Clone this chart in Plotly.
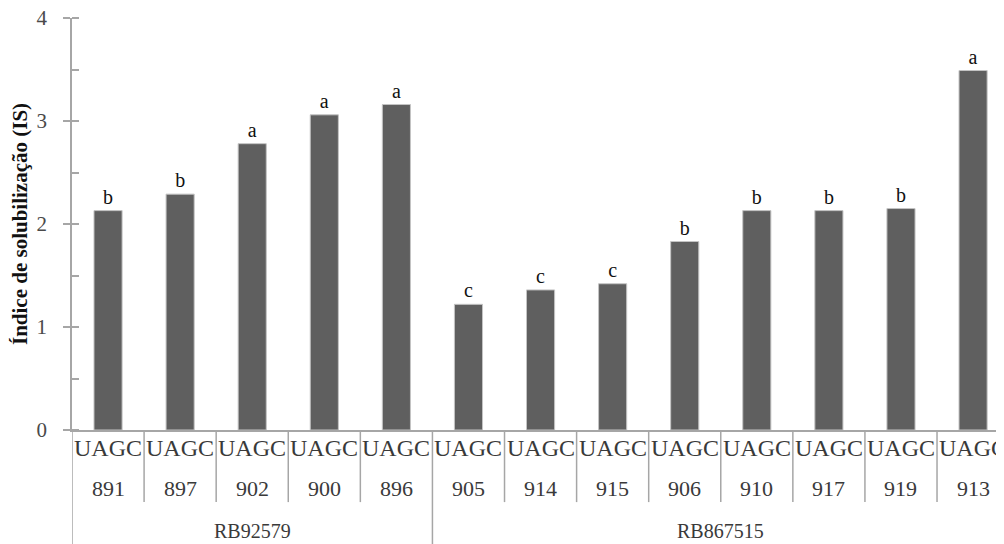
import plotly.graph_objects as go

isolates = ["891", "897", "902", "900", "896", "905", "914", "915", "906", "910", "917", "919", "913"]
prefix = "UAGC"
groups = ["RB92579"] * 5 + ["RB867515"] * 8
group_names = ["RB92579", "RB867515"]
values = [2.13, 2.29, 2.78, 3.06, 3.16, 1.22, 1.36, 1.42, 1.83, 2.13, 2.13, 2.15, 3.49]
letters = ["b", "b", "a", "a", "a", "c", "c", "c", "b", "b", "b", "b", "a"]
y_title = "Índice de solubilização (IS)"

idx = list(range(len(isolates)))
serif = "Liberation Serif, Times New Roman, serif"

fig = go.Figure()
fig.add_trace(go.Bar(
    x=idx, y=values, width=0.39,
    marker=dict(color="#5f5f5f", line=dict(color="#c4c4c4", width=1)),
    text=letters, textposition="outside", cliponaxis=False,
    textfont=dict(family=serif, size=20, color="#111111"),
    constraintext="none",
))

shapes = []
annotations = []
for i in idx:
    annotations.append(dict(x=i, y=-0.0437, xref="x", yref="paper", text=prefix,
                            showarrow=False, font=dict(family=serif, size=24, color="#3a3a3a"),
                            xanchor="center", yanchor="middle"))
    annotations.append(dict(x=i, y=-0.141, xref="x", yref="paper", text=isolates[i],
                            showarrow=False, font=dict(family=serif, size=22, color="#3a3a3a"),
                            xanchor="center", yanchor="middle"))
# separators
for i in range(len(isolates) + 1):
    boundary = i - 0.5
    is_group_edge = (i == 0) or (i < len(groups) and groups[i] != groups[i - 1])
    shapes.append(dict(type="line", xref="x", yref="paper", x0=boundary, x1=boundary,
                       y0=0, y1=-0.3 if is_group_edge else -0.175,
                       line=dict(color="#a6a6a6", width=1.5)))
# group labels
for g in group_names:
    members = [i for i in idx if groups[i] == g]
    center = (members[0] + members[-1]) / 2
    annotations.append(dict(x=center, y=-0.245, xref="x", yref="paper", text=g,
                            showarrow=False, font=dict(family=serif, size=20, color="#3a3a3a"),
                            xanchor="center", yanchor="middle"))

fig.update_layout(
    width=1004, height=544,
    margin=dict(l=64, r=0, t=10, b=122),
    plot_bgcolor="white", paper_bgcolor="white",
    showlegend=False,
    shapes=shapes, annotations=annotations,
    xaxis=dict(range=[-0.5, 12.54], showticklabels=False, ticks="", showgrid=False,
               zeroline=False, showline=True, linecolor="#a6a6a6", linewidth=1.5,
               automargin=False),
    yaxis=dict(range=[0, 4], dtick=1, showgrid=False, zeroline=False,
               showline=True, linecolor="#a6a6a6", linewidth=1.5, automargin=False,
               ticks="outside", ticklen=7, tickcolor="#a6a6a6", tickwidth=1.5,
               ticklabelstandoff=12, ticklabeloverflow="allow",
               minor=dict(dtick=0.5, ticks="inside", ticklen=7, tickcolor="#a6a6a6", tickwidth=1.5),
               tickfont=dict(family=serif, size=21, color="#4a4a4a"),
               title=dict(text="<b>" + y_title + "</b>", standoff=16,
                          font=dict(family=serif, size=21, color="#111111"))),
)

fig.write_html("out.html")
